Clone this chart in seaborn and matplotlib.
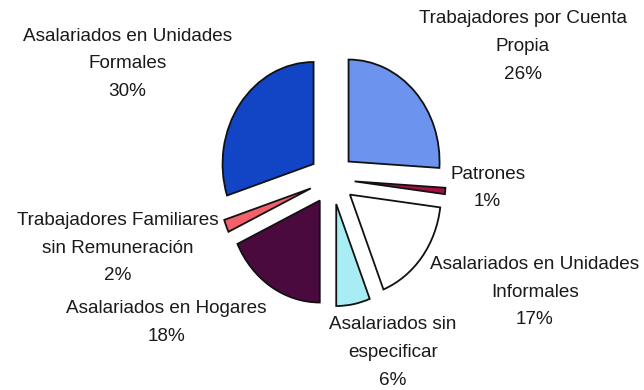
import matplotlib
matplotlib.use("Agg")
import matplotlib.pyplot as plt
import seaborn as sns

# Distribución de ocupados por categoría
categorias = [
    "Trabajadores por Cuenta\nPropia",
    "Patrones",
    "Asalariados en Unidades\nInformales",
    "Asalariados sin\nespecificar",
    "Asalariados en Hogares",
    "Trabajadores Familiares\nsin Remuneración",
    "Asalariados en Unidades\nFormales",
]
porcentajes = [26, 1, 17, 6, 18, 2, 30]
colores = ["#6C93EE", "#A3123F", "#FFFFFF", "#A8ECF4", "#4A0A3E", "#F2606C", "#1244C6"]

# Posición de cada etiqueta (coordenadas del eje)
etiqueta_x = [2.10, 1.71, 2.23, 0.67, -1.82, -2.35, -2.25]
etiqueta_y = [1.30, -0.09, -1.11, -1.70, -1.41, -0.68, 1.13]

sns.set_theme(style="white")
plt.rcParams["font.family"] = ["Liberation Sans", "DejaVu Sans"]

fig = plt.figure(figsize=(6.44, 3.90), dpi=100)
ax = fig.add_axes([0, 0, 1, 1])

ax.pie(
    porcentajes,
    colors=colores,
    explode=[0.25] * len(porcentajes),
    startangle=90,
    counterclock=False,
    radius=1.0,
    wedgeprops=dict(edgecolor="#111111", linewidth=1.3),
)
ax.set_aspect("auto")
ax.set_xlim(-3.648, 3.429)
ax.set_ylim(-2.069, 1.755)
ax.axis("off")

for nombre, valor, x, y in zip(categorias, porcentajes, etiqueta_x, etiqueta_y):
    ax.text(x, y, f"{nombre}\n{valor}%", ha="center", va="center",
            fontsize=13.6, color="#1a1a1a", linespacing=1.82)

fig.savefig("out.png", dpi=100, facecolor="white")
